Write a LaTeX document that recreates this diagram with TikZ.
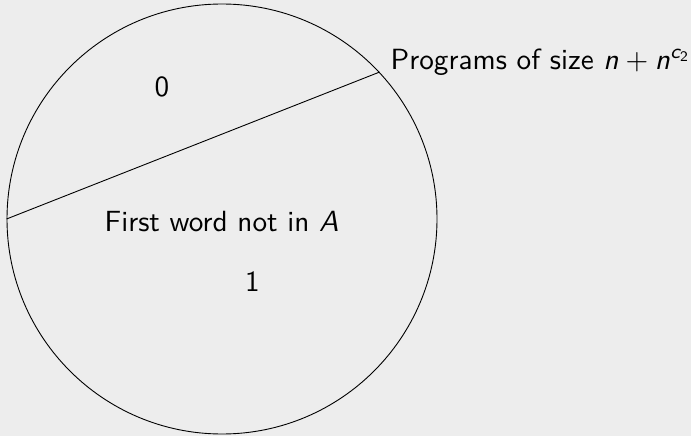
\documentclass[tikz,border=0pt]{standalone}
\DeclareMathAlphabet{\mathsfit}{OT1}{cmss}{m}{sl}
\DeclareMathAlphabet{\mathsfup}{OT1}{cmss}{m}{n}
\definecolor{bg}{RGB}{237,237,237}
\newcommand{\bigtxt}[1]{\scalebox{2.92}{\fontsize{10}{12}\selectfont\sffamily #1}}
\begin{document}
\begin{tikzpicture}[x=1pt,y=-1pt,
  lbl/.style={inner sep=0pt},
  edge/.style={line width=0.9pt}]
\fill[bg] (0,0) rectangle (691,436);
\useasboundingbox (0,0) rectangle (691,436);
\node[draw,edge,circle,minimum size=430pt,inner sep=0pt] (c) at (222,219) {};
\draw[edge] (c.180.8) -- (c.43.7);
\node[lbl,anchor=base] (zero) at (161.8,96) {\bigtxt{0}};
\node[lbl,anchor=base west] (first) at (104.5,231.7) {\bigtxt{First word not in $\mathsfit{A}$}};
\node[lbl,anchor=base] (one) at (252.5,291.7) {\bigtxt{1}};
\node[lbl,anchor=base west] (prog) at (390.5,69.3) {\bigtxt{Programs of size $\mathsfit{n}+\mathsfit{n}^{\mathsfit{c}_{\mathsfup{2}}}$}};
\end{tikzpicture}
\end{document}
